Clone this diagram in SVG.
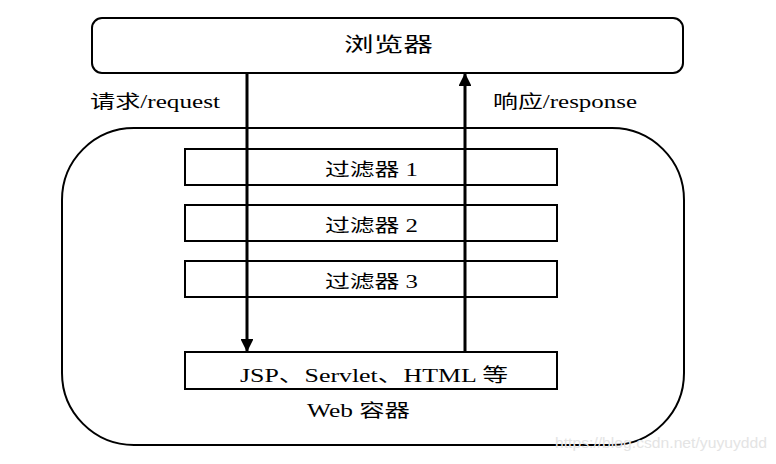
<svg xmlns="http://www.w3.org/2000/svg" width="776" height="464" viewBox="0 0 776 464">
<defs>
<style>
.box{fill:#fff;stroke:#000;stroke-width:2}
.t{font-family:"Liberation Serif","Noto Sans CJK SC",serif;fill:#000}
.arr{stroke:#000;stroke-width:3;fill:none}
</style>
<marker id="ah" viewBox="0 0 10 10" refX="10" refY="5" markerWidth="4.3" markerHeight="4.3" markerUnits="strokeWidth" orient="auto">
<path d="M0,0 L10,5 L0,10 Z" fill="#000"/>
</marker>
</defs>
<rect width="776" height="464" fill="#fff"/>
<g id="container">
<rect class="box" x="62" y="128" width="622" height="317" rx="72" ry="72"/>
<text class="t" x="307" y="417" font-size="18" textLength="103" lengthAdjust="spacingAndGlyphs">Web 容器</text>
</g>
<g id="browser">
<rect class="box" x="92" y="18" width="591" height="55" rx="10" ry="10"/>
<text class="t" x="344" y="52" font-size="20" textLength="89" lengthAdjust="spacingAndGlyphs">浏览器</text>
</g>
<g id="filter1">
<rect class="box" x="185" y="149" width="372" height="36"/>
<text class="t" x="325" y="176" font-size="18" textLength="93" lengthAdjust="spacingAndGlyphs">过滤器 1</text>
</g>
<g id="filter2">
<rect class="box" x="185" y="205" width="372" height="36"/>
<text class="t" x="325" y="232" font-size="18" textLength="93" lengthAdjust="spacingAndGlyphs">过滤器 2</text>
</g>
<g id="filter3">
<rect class="box" x="185" y="261" width="372" height="36"/>
<text class="t" x="325" y="288" font-size="18" textLength="93" lengthAdjust="spacingAndGlyphs">过滤器 3</text>
</g>
<g id="resource">
<rect class="box" x="185" y="352" width="372" height="37"/>
<text class="t" x="240" y="382" font-size="19" textLength="268" lengthAdjust="spacingAndGlyphs">JSP、Servlet、HTML 等</text>
</g>
<g id="connectors">
<line class="arr" x1="247" y1="73" x2="247" y2="352" marker-end="url(#ah)"/>
<line class="arr" x1="465" y1="352" x2="465" y2="73" marker-end="url(#ah)"/>
<text class="t" x="90" y="108" font-size="18" textLength="130" lengthAdjust="spacingAndGlyphs">请求/request</text>
<text class="t" x="493" y="108" font-size="18" textLength="144" lengthAdjust="spacingAndGlyphs">响应/response</text>
</g>
<text x="555" y="448" font-family="'Liberation Sans',sans-serif" font-size="14" fill="#e4e4e4" textLength="212" lengthAdjust="spacingAndGlyphs">https://blog.csdn.net/yuyuyddd</text>
</svg>
